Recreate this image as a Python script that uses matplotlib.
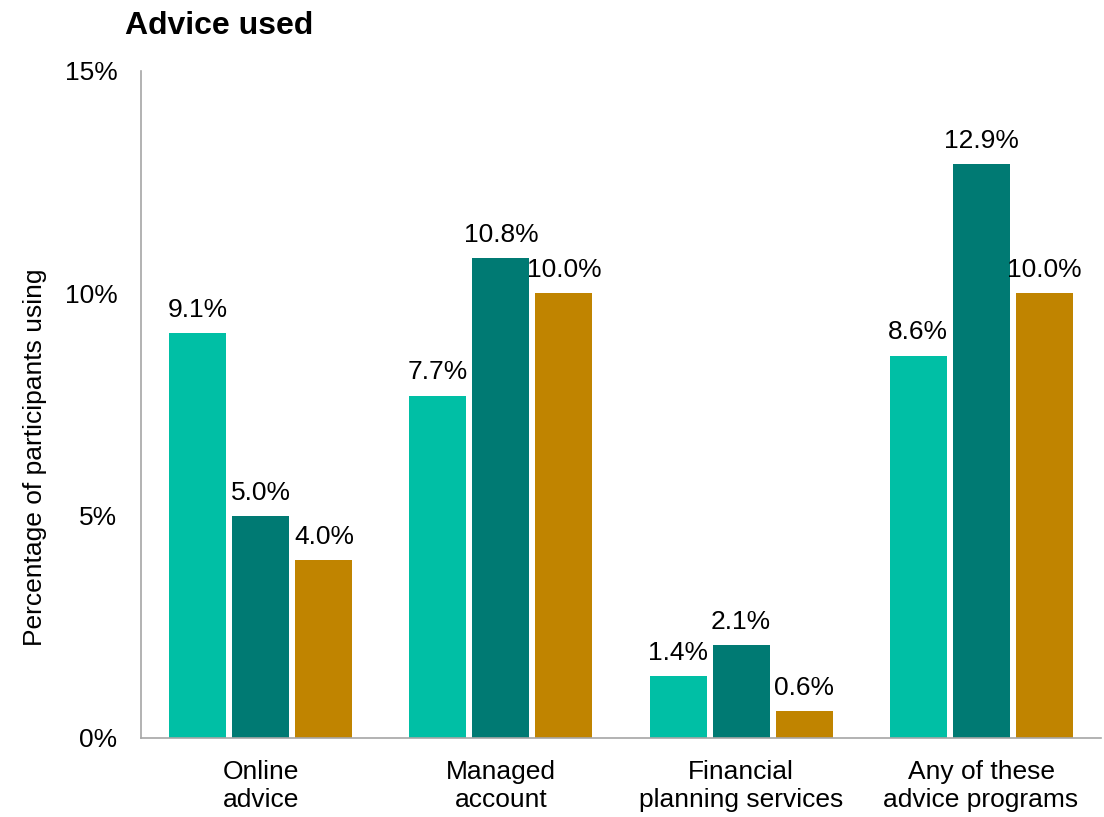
import matplotlib.pyplot as plt
import numpy as np

categories = ["Online\nadvice", "Managed\naccount",
              "Financial\nplanning services", "Any of these\nadvice programs"]
series_a = [9.1, 7.7, 1.4, 8.6]
series_b = [5.0, 10.8, 2.1, 12.9]
series_c = [4.0, 10.0, 0.6, 10.0]
colors = ["#00BFA5", "#007A73", "#C08400"]

plt.rcParams["font.family"] = ["Liberation Sans", "DejaVu Sans"]

fig = plt.figure(figsize=(11.04, 8.17), dpi=100)
ax = fig.add_axes([0.1277, 0.0967, 0.8696, 0.8164])

x = np.arange(len(categories))
width = 0.2375
step = 0.2625

for i, (vals, col) in enumerate(zip([series_a, series_b, series_c], colors)):
    pos = x + (i - 1) * step
    ax.bar(pos, vals, width=width, color=col, zorder=2)
    for xb, v in zip(pos, vals):
        ax.annotate(f"{v:.1f}%", (xb, v), xytext=(0, 8),
                    textcoords="offset points", ha="center", va="bottom",
                    fontsize=19, color="#000000")

ax.set_xlim(-0.5, 3.5)
ax.set_ylim(0, 15)
ax.set_yticks([0, 5, 10, 15])
ax.set_yticklabels(["0%", "5%", "10%", "15%"])
ax.set_xticks(x)
ax.set_xticklabels(categories, linespacing=1.22)
ax.tick_params(axis="both", length=0, labelsize=19)
ax.tick_params(axis="x", pad=16)
ax.tick_params(axis="y", pad=17)

for side in ["top", "right"]:
    ax.spines[side].set_visible(False)
for side in ["left", "bottom"]:
    ax.spines[side].set_color("#A6A6A6")
    ax.spines[side].set_linewidth(1.2)

fig.text(0.1132, 0.968, "Advice used", fontsize=23, fontweight="bold",
         ha="left", va="center")
fig.text(0.0317, 0.4406, "Percentage of participants using", fontsize=19,
         rotation=90, ha="center", va="center")

fig.savefig("out.png", dpi=100)
